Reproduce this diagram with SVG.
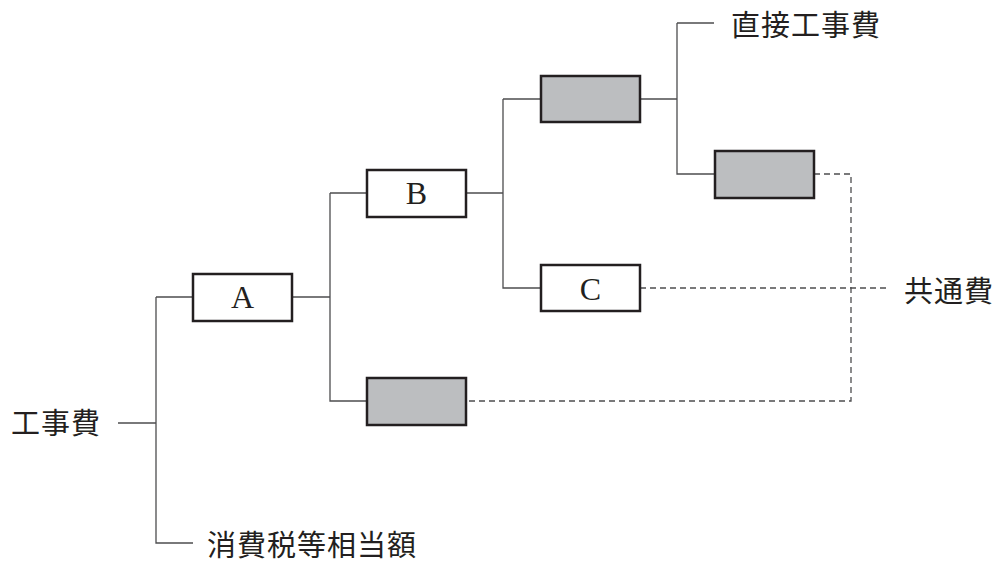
<svg xmlns="http://www.w3.org/2000/svg" width="998" height="563" viewBox="0 0 998 563">
<style>
.box{fill:#ffffff;stroke:#231f20;stroke-width:2.5}
.gbox{fill:#bcbec0;stroke:#231f20;stroke-width:2.5}
.ln{fill:none;stroke:#4d4d4f;stroke-width:1.3}
.dash{fill:none;stroke:#4d4d4f;stroke-width:1.3;stroke-dasharray:6 4}
.jp{font-family:"Noto Sans CJK JP","Noto Sans CJK SC",sans-serif;font-size:29px;letter-spacing:1px;fill:#231f20;dominant-baseline:central}
.lt{font-family:"Liberation Serif",serif;font-size:32px;fill:#231f20;text-anchor:middle}
</style>
<rect width="998" height="563" fill="#ffffff"/>
<g id="connectors">
<path class="ln" d="M118 423 H156 M156 297 V543 H193 M156 297 H193"/>
<path class="ln" d="M292 297 H330 M330 193 V401 H367 M330 193 H367"/>
<path class="ln" d="M466 193 H503 M503 99 V288 H541 M503 99 H541"/>
<path class="ln" d="M640 99 H677 M677 23 V174 H715 M677 23 H714"/>
<path class="dash" d="M814 174 H851 V401 H466"/>
<path class="dash" d="M640 288 H890"/>
</g>
<g id="node-koujihi"><text class="jp" x="11" y="421">工事費</text></g>
<g id="node-shouhizei"><text class="jp" x="207" y="543">消費税等相当額</text></g>
<g id="node-A"><rect class="box" x="193" y="274" width="99" height="47"/><text class="lt" x="242.5" y="308">A</text></g>
<g id="node-B"><rect class="box" x="367" y="170" width="99" height="47"/><text class="lt" x="416.5" y="204">B</text></g>
<g id="node-C"><rect class="box" x="541" y="265" width="99" height="46"/><text class="lt" x="590.5" y="300">C</text></g>
<g id="node-gray1"><rect class="gbox" x="541" y="76" width="99" height="46"/></g>
<g id="node-gray2"><rect class="gbox" x="715" y="151" width="99" height="47"/></g>
<g id="node-gray3"><rect class="gbox" x="367" y="378" width="99" height="47"/></g>
<g id="node-chokusetsu"><text class="jp" x="731" y="23">直接工事費</text></g>
<g id="node-kyoutsuu"><text class="jp" x="904" y="289">共通費</text></g>
</svg>
